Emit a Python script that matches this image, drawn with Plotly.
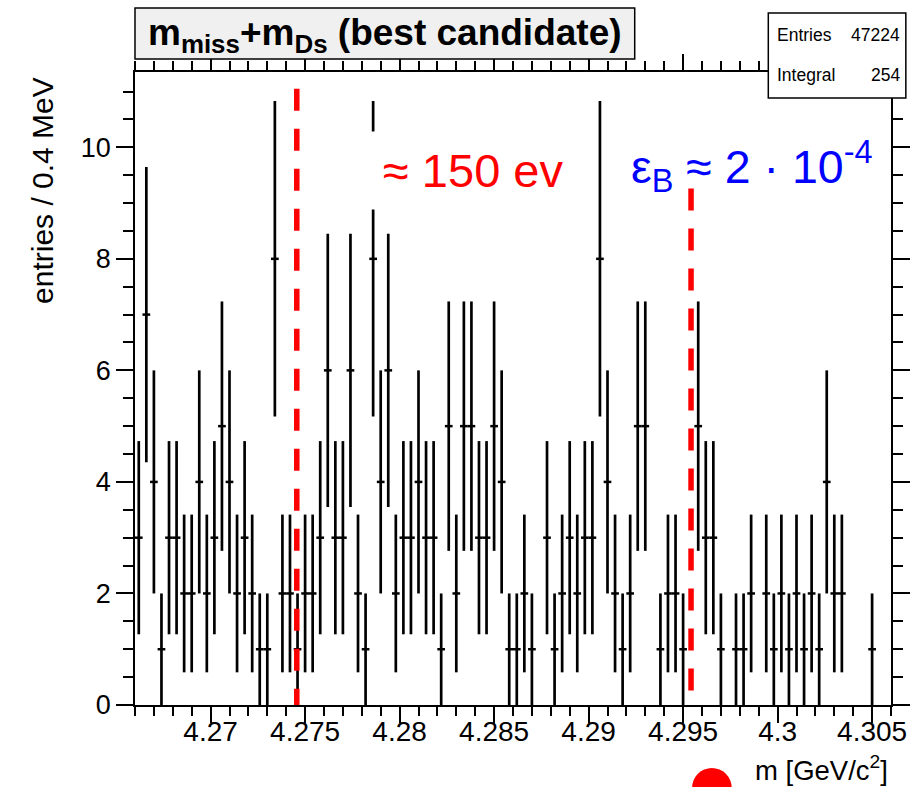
import numpy as np
import plotly.graph_objects as go

# ---------------- data ----------------
x_min, x_max = 4.266, 4.306
bin_width = 0.0004
counts = [3, 7, 4, 1, 3, 3, 2, 2, 4, 2,
          3, 5, 4, 2, 3, 2, 1, 1, 8, 2,
          2, 1, 2, 2, 3, 6, 3, 3, 6, 2,
          1, 8, 4, 6, 2, 3, 3, 4, 3, 3,
          1, 5, 2, 5, 5, 3, 3, 5, 4, 1,
          1, 2, 1, 0, 3, 1, 2, 3, 2, 3,
          3, 8, 4, 2, 1, 2, 5, 5, 0, 1,
          2, 2, 1, 0, 5, 3, 3, 1, 0, 1,
          1, 2, 0, 2, 1, 2, 1, 2, 1, 2,
          1, 4, 2, 2, 0, 0, 0, 1, 0, 0]
y_max = 11.35

x_tickvals = [4.27, 4.275, 4.28, 4.285, 4.29, 4.295, 4.3, 4.305]
x_ticktext = ["4.27", "4.275", "4.28", "4.285", "4.29", "4.295", "4.3", "4.305"]

marker_lines_x = [4.27456, 4.29542]
marker_lines_top = [11.05, 9.26]

stats_labels = ["Entries", "Integral"]
stats_values = ["47224", "254"]

# ---------------- derived ----------------
counts_arr = np.array(counts, dtype=float)
centers = x_min + bin_width * (np.arange(len(counts)) + 0.5)
mask = counts_arr > 0
xs = centers[mask]
ys = counts_arr[mask]
errs = np.sqrt(ys)

W, H = 922, 787
L, R, T, B = 135, 899, 72, 705


def px(x):
    return (x - L) / (R - L)


def py(y):
    return (B - y) / (B - T)


FONT = "Liberation Sans, Arial, Helvetica, sans-serif"

fig = go.Figure()
fig.add_trace(go.Scatter(
    x=xs, y=ys, mode="markers",
    marker=dict(symbol="line-ew", size=5.5, color="black",
                line=dict(color="black", width=2.5)),
    error_y=dict(type="data", array=errs, visible=True, width=0,
                 thickness=2.7, color="black"),
    showlegend=False, hoverinfo="x+y",
))

shapes = []
for xv, top in zip(marker_lines_x, marker_lines_top):
    shapes.append(dict(type="line", xref="x", yref="y", x0=xv, x1=xv,
                       y0=top, y1=0,
                       line=dict(color="#ff0000", width=5.5, dash="22px,18px"),
                       layer="above"))

# title box
shapes.append(dict(type="rect", xref="paper", yref="paper",
                   x0=px(135), x1=px(640), y0=py(59), y1=py(8),
                   fillcolor="#f0f0f0", line=dict(color="black", width=1.5),
                   layer="above"))
# stats box
shapes.append(dict(type="rect", xref="paper", yref="paper",
                   x0=px(775), x1=px(914), y0=py(98), y1=py(13),
                   fillcolor="white", line=dict(color="black", width=1.5),
                   layer="above"))
# red blob at bottom
shapes.append(dict(type="circle", xref="paper", yref="paper",
                   x0=px(698), x1=px(738), y0=py(808), y1=py(768),
                   fillcolor="#ff0000", line=dict(color="#ff0000", width=0),
                   layer="above"))

annotations = [
    dict(text="<b>m<sub>miss</sub>+m<sub>Ds</sub> (best candidate)</b>",
         xref="paper", yref="paper", x=px(388), y=py(35),
         xanchor="center", yanchor="middle", showarrow=False,
         font=dict(family=FONT, size=37, color="black")),
    dict(text="≈ 150 ev", xref="paper", yref="paper", x=px(372), y=py(170),
         xanchor="left", yanchor="middle", showarrow=False,
         bgcolor="white", borderpad=12,
         font=dict(family=FONT, size=47, color="#ff0000")),
    dict(text="ε<sub>B</sub> ≈ 2 · 10<sup>-4</sup>", xref="paper", yref="paper",
         x=px(634), y=py(166), xanchor="left", yanchor="middle", showarrow=False,
         font=dict(family=FONT, size=46.5, color="#0000ff")),
    dict(text="entries / 0.4 MeV", xref="paper", yref="paper",
         x=px(42), y=py(190), xanchor="center", yanchor="middle",
         textangle=-90, showarrow=False,
         font=dict(family=FONT, size=30, color="black")),
    dict(text="m [GeV/c<sup>2</sup>]", xref="paper", yref="paper",
         x=px(898), y=py(768), xanchor="right", yanchor="middle",
         showarrow=False, font=dict(family=FONT, size=27.5, color="black")),
]
for i, (lab, val) in enumerate(zip(stats_labels, stats_values)):
    yy = 35 + 40 * i
    annotations.append(dict(text=lab, xref="paper", yref="paper", x=px(782), y=py(yy),
                            xanchor="left", yanchor="middle", showarrow=False,
                            font=dict(family=FONT, size=17.5, color="black")))
    annotations.append(dict(text=val, xref="paper", yref="paper", x=px(910), y=py(yy),
                            xanchor="right", yanchor="middle", showarrow=False,
                            font=dict(family=FONT, size=17.5, color="black")))

fig.update_layout(
    width=W, height=H,
    margin=dict(l=L, r=W - R, t=T, b=H - B, pad=0),
    paper_bgcolor="white", plot_bgcolor="white",
    shapes=shapes, annotations=annotations,
    font=dict(family=FONT, size=28, color="black"),
    xaxis=dict(range=[x_min, x_max], tickvals=x_tickvals, ticktext=x_ticktext,
               ticks="outside", ticklen=16, tickwidth=1.5, tickcolor="black",
               ticklabelstandoff=-15,
               showline=True, linewidth=1.5, linecolor="black", mirror="ticks",
               showgrid=False, zeroline=False,
               tickfont=dict(family=FONT, size=28),
               minor=dict(dtick=0.001, tick0=4.265, ticks="outside", ticklen=9,
                          tickwidth=1.5, tickcolor="black", showgrid=False)),
    yaxis=dict(range=[0, y_max], dtick=2, tick0=0,
               ticks="outside", ticklen=17, tickwidth=1.5, tickcolor="black",
               showline=True, linewidth=1.5, linecolor="black", mirror="ticks",
               showgrid=False, zeroline=False,
               tickfont=dict(family=FONT, size=27),
               minor=dict(dtick=0.5, tick0=0, ticks="outside", ticklen=10,
                          tickwidth=1.5, tickcolor="black", showgrid=False)),
)

fig.write_html("out.html")
